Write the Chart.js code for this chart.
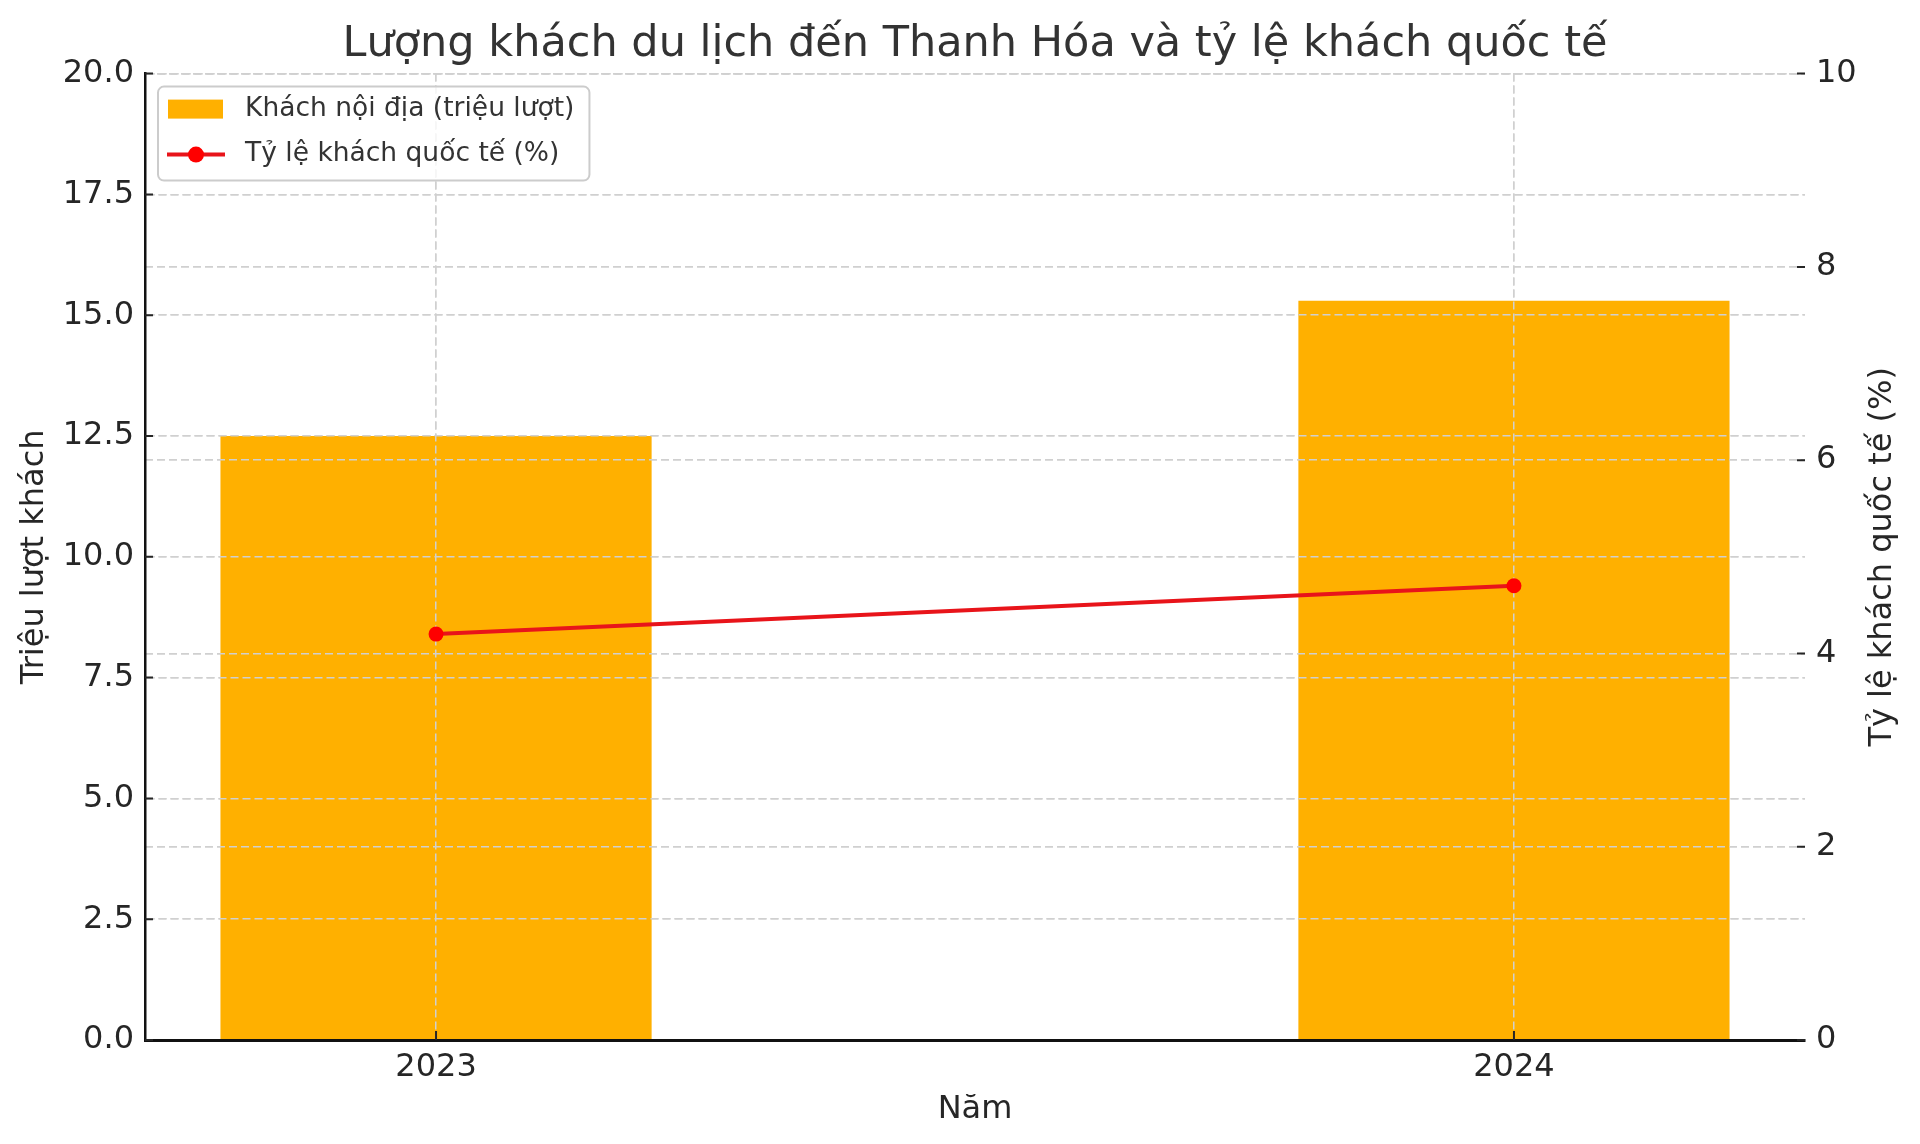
<!DOCTYPE html>
<html>
<head>
<meta charset="utf-8">
<title>Lượng khách du lịch đến Thanh Hóa</title>
<script src="https://cdn.jsdelivr.net/npm/chart.js@4.4.1/dist/chart.umd.min.js"></script>
<style>
  html, body { margin: 0; padding: 0; background: #fff; }
  #chart { display: block; }
</style>
</head>
<body>
<canvas id="chart" width="1920" height="1144"></canvas>
<script>
// Data
const years = ['2023', '2024'];
const domesticVisitors = [12.5, 15.3];   // triệu lượt
const foreignShare = [4.2, 4.7];         // %
const leftTicks = [0, 2.5, 5, 7.5, 10, 12.5, 15, 17.5, 20];
const rightTicks = [0, 2, 4, 6, 8, 10];

const chartTitle = 'Lượng khách du lịch đến Thanh Hóa và tỷ lệ khách quốc tế';
const xTitle = 'Năm';
const leftTitle = 'Triệu lượt khách';
const rightTitle = 'Tỷ lệ khách quốc tế (%)';
const barLabel = 'Khách nội địa (triệu lượt)';
const lineLabel = 'Tỷ lệ khách quốc tế (%)';

const FONT = '"DejaVu Sans", sans-serif';
const BAR_COLOR = '#FFB000';
const LINE_COLOR = '#E8141A';
const POINT_COLOR = '#FF0000';
const GRID_COLOR = '#d0d0d0';
const TEXT_COLOR = '#262626';
const tickFont = { size: 32, family: FONT };

// Grid over the bars, inward tick marks, right axis title and the legend box
const overlay = {
    id: 'overlay',
    afterDatasetDraw(chart, args) {
        // grid sits above the bars but below the line, like matplotlib
        if (args.meta.type !== 'bar') return;
        ['x', 'y', 'y1'].forEach(id => chart.scales[id].drawGrid(chart.chartArea));
    },
    afterDraw(chart) {
        const ctx = chart.ctx;
        const { left, right, top, bottom } = chart.chartArea;
        const { x, y, y1 } = chart.scales;

        ctx.save();
        ctx.strokeStyle = TEXT_COLOR;
        ctx.lineWidth = 2;
        ctx.beginPath();
        y.ticks.forEach((t, i) => {
            const p = y.getPixelForTick(i);
            ctx.moveTo(left, p);
            ctx.lineTo(left + 8, p);
        });
        y1.ticks.forEach((t, i) => {
            const p = y1.getPixelForTick(i);
            ctx.moveTo(right - 8, p);
            ctx.lineTo(right, p);
        });
        x.ticks.forEach((t, i) => {
            const p = x.getPixelForTick(i);
            ctx.moveTo(p, bottom - 9);
            ctx.lineTo(p, bottom);
        });
        ctx.stroke();
        ctx.restore();

        // right axis title reads bottom to top
        ctx.save();
        ctx.translate(right + 78, (top + bottom) / 2);
        ctx.rotate(-Math.PI / 2);
        ctx.font = '32px ' + FONT;
        ctx.fillStyle = TEXT_COLOR;
        ctx.textAlign = 'center';
        ctx.textBaseline = 'middle';
        ctx.fillText(rightTitle, 0, 0);
        ctx.restore();

        // legend
        const ds = chart.data.datasets;
        ctx.save();
        ctx.font = '26.5px ' + FONT;
        const textW = Math.max(...ds.map(d => ctx.measureText(d.label).width));
        const bx = left + 13, by = top + 13;
        const bw = 87 + textW + 15, bh = 94;
        ctx.beginPath();
        ctx.roundRect(bx, by, bw, bh, 6);
        ctx.fillStyle = 'rgba(255,255,255,0.8)';
        ctx.fill();
        ctx.strokeStyle = '#cccccc';
        ctx.lineWidth = 2;
        ctx.stroke();

        ctx.fillStyle = ds[0].backgroundColor;
        ctx.fillRect(bx + 10, by + 13, 55, 19);

        const ly = by + 68;
        ctx.strokeStyle = ds[1].borderColor;
        ctx.lineWidth = 4;
        ctx.beginPath();
        ctx.moveTo(bx + 9, ly);
        ctx.lineTo(bx + 67, ly);
        ctx.stroke();
        ctx.fillStyle = ds[1].pointBackgroundColor;
        ctx.beginPath();
        ctx.arc(bx + 38, ly, 8, 0, Math.PI * 2);
        ctx.fill();

        ctx.fillStyle = '#333333';
        ctx.textBaseline = 'middle';
        ctx.fillText(ds[0].label, bx + 87, by + 23);
        ctx.fillText(ds[1].label, bx + 87, ly);
        ctx.restore();
    }
};

const ctx = document.getElementById('chart').getContext('2d');

new Chart(ctx, {
    type: 'bar',
    data: {
        datasets: [
            {
                type: 'bar',
                label: barLabel,
                yAxisID: 'y',
                order: 1,
                data: years.map((_, i) => ({ x: i, y: domesticVisitors[i] })),
                backgroundColor: BAR_COLOR,
                borderWidth: 0,
                barPercentage: 0.4,
                categoryPercentage: 1
            },
            {
                type: 'line',
                label: lineLabel,
                yAxisID: 'y1',
                order: 0,
                data: years.map((_, i) => ({ x: i, y: foreignShare[i] })),
                borderColor: LINE_COLOR,
                borderWidth: 4,
                pointRadius: 7.5,
                pointBackgroundColor: POINT_COLOR,
                pointBorderColor: POINT_COLOR,
                pointBorderWidth: 0
            }
        ]
    },
    options: {
        responsive: false,
        animation: false,
        devicePixelRatio: 1,
        layout: { padding: 0 },
        plugins: {
            legend: { display: false },
            tooltip: { enabled: false },
            title: {
                display: true,
                text: chartTitle,
                fullSize: false,
                color: '#333333',
                font: { size: 43, family: FONT, weight: 'normal' },
                padding: { top: 19, bottom: 3 }
            }
        },
        scales: {
            x: {
                type: 'linear',
                min: -0.27,
                max: 1.27,
                offset: false,
                afterBuildTicks: s => { s.ticks = years.map((_, i) => ({ value: i })); },
                afterFit: s => { s.height = 104; },
                ticks: {
                    callback: v => years[v],
                    font: tickFont,
                    color: TEXT_COLOR,
                    padding: 8,
                    maxRotation: 0,
                    autoSkip: false
                },
                grid: { color: GRID_COLOR, lineWidth: 1.5, drawTicks: false, offset: false },
                border: { color: '#111111', width: 3, dash: [8, 4], z: 1 },
                title: {
                    display: true,
                    text: xTitle,
                    font: tickFont,
                    color: TEXT_COLOR,
                    padding: { top: 4, bottom: 15.5 }
                }
            },
            y: {
                position: 'left',
                min: 0,
                max: 20,
                afterBuildTicks: s => { s.ticks = leftTicks.map(v => ({ value: v })); },
                afterFit: s => { s.width = 145; },
                ticks: {
                    callback: v => v.toFixed(1),
                    font: tickFont,
                    color: TEXT_COLOR,
                    padding: 11
                },
                grid: { color: GRID_COLOR, lineWidth: 1.5, drawTicks: false },
                border: { color: '#111111', width: 2.5, dash: [8, 4], z: 1 },
                title: {
                    display: true,
                    text: leftTitle,
                    font: tickFont,
                    color: TEXT_COLOR,
                    padding: { top: 15, bottom: 4 }
                }
            },
            y1: {
                position: 'right',
                min: 0,
                max: 10,
                afterBuildTicks: s => { s.ticks = rightTicks.map(v => ({ value: v })); },
                afterFit: s => { s.width = 115; },
                ticks: {
                    callback: v => String(v),
                    font: tickFont,
                    color: TEXT_COLOR,
                    padding: 11
                },
                grid: { color: GRID_COLOR, lineWidth: 1.5, drawTicks: false },
                border: { display: false, dash: [8, 4] }
            }
        }
    },
    plugins: [overlay]
});
</script>
</body>
</html>
